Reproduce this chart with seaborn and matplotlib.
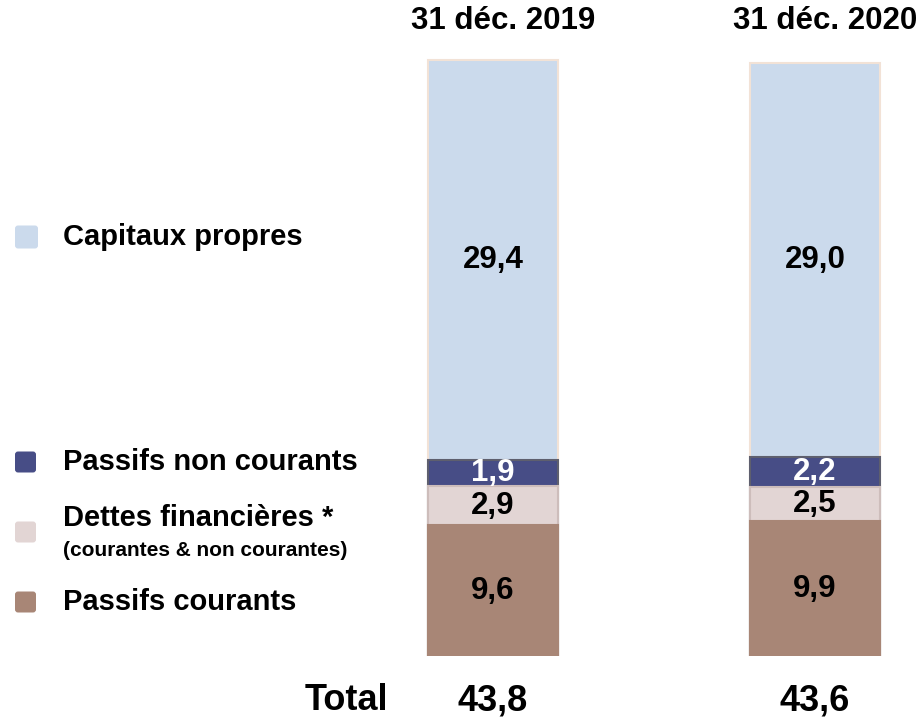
import numpy as np
import pandas as pd
import matplotlib.pyplot as plt
import seaborn as sns
from matplotlib.patches import FancyBboxPatch
from matplotlib.transforms import IdentityTransform

dates = ["31 déc. 2019", "31 déc. 2020"]
passifs_courants = [9.6, 9.9]
dettes_financieres = [2.9, 2.5]
passifs_non_courants = [1.9, 2.2]
capitaux_propres = [29.4, 29.0]
totals = [43.8, 43.6]

segment_names = ["Passifs courants", "Dettes financières *", "Passifs non courants", "Capitaux propres"]
segment_colors = ["#A88676", "#E2D5D4", "#474D86", "#CBDAEC"]
segment_edges = ["#A88676", "#CDBDBB", "#5E5F6E", "#F2E2D6"]
label_colors = ["black", "black", "white", "black"]

sns.set_style("white")
plt.rcParams["font.family"] = ["Liberation Sans", "DejaVu Sans"]
plt.rcParams["font.weight"] = "bold"
plt.rcParams["text.color"] = "black"

W, H = 923, 717
fig = plt.figure(figsize=(W / 100, H / 100), dpi=100)

# axes placed so that bar centres land at x=493 / 815 px, baseline at y=656 px
px_per_unit_x = 322
px_per_unit_y = 13.61
x_left, x_right = -0.5, 1.3
y_max = 45
ax_left = 493 + x_left * px_per_unit_x
ax_width = (x_right - x_left) * px_per_unit_x
ax_height = y_max * px_per_unit_y
ax = fig.add_axes([ax_left / W, (H - 656) / H, ax_width / W, ax_height / H])

segments = np.array([passifs_courants, dettes_financieres, passifs_non_courants, capitaux_propres])
cum = segments.cumsum(axis=0)

# draw tallest cumulative bar first, then lower layers on top
for i in range(len(segments) - 1, -1, -1):
    df = pd.DataFrame({"date": dates, "value": cum[i]})
    sns.barplot(data=df, x="date", y="value", color=segment_colors[i], saturation=1,
                width=0.404, edgecolor=segment_edges[i], linewidth=1.5, ax=ax)

for i in range(len(segments)):
    for j in range(len(dates)):
        mid = cum[i, j] - segments[i, j] / 2
        ax.text(j, mid, f"{segments[i, j]:.1f}".replace(".", ","), ha="center", va="center",
                fontsize=22.5, fontweight="bold", color=label_colors[i])

for j, d in enumerate(dates):
    ax.text(j + 0.03, 46.1, d, ha="center", va="baseline", fontsize=22.5,
            fontweight="bold", clip_on=False)
    ax.text(j, -4.0, f"{totals[j]:.1f}".replace(".", ","), ha="center", va="baseline",
            fontsize=26, fontweight="bold", clip_on=False)

ax.set_xlim(x_left, x_right)
ax.set_ylim(0, y_max)
ax.axis("off")

fig.text(305 / W, 1 - 710.5 / H, "Total", ha="left", va="baseline", fontsize=26, fontweight="bold")

# legend on the left
legend_items = [
    ("Capitaux propres", 3, 237, 23),
    ("Passifs non courants", 2, 462, 21),
    ("Dettes financières *", 1, 532, 21),
    ("Passifs courants", 0, 602, 21),
]
for name, idx, yc, size in legend_items:
    box = FancyBboxPatch((15, H - yc - size / 2), size, size,
                         boxstyle="round,pad=0,rounding_size=3",
                         facecolor=segment_colors[idx], edgecolor="none",
                         transform=IdentityTransform())
    fig.add_artist(box)
    text_y = 518 if idx == 1 else yc
    fig.text(63 / W, 1 - text_y / H, name, ha="left", va="center", fontsize=21, fontweight="bold")
fig.text(63 / W, 1 - 550 / H, "(courantes & non courantes)", ha="left", va="center",
         fontsize=15, fontweight="bold")

fig.savefig("out.png", dpi=100)
